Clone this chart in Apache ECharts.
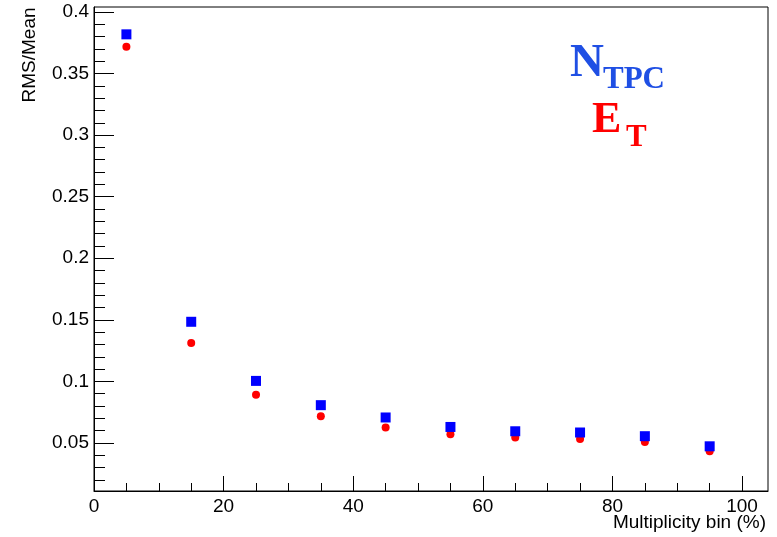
<!DOCTYPE html>
<html>
<head>
<meta charset="utf-8">
<script src="https://cdn.jsdelivr.net/npm/echarts@6/dist/echarts.min.js"></script>
<style>
  html, body { margin: 0; padding: 0; background: #fff; }
  #chart { width: 777px; height: 537px; }
</style>
</head>
<body>
<div id="chart"></div>
<script>
// Multiplicity bin centres (%)
const bins = [5, 15, 25, 35, 45, 55, 65, 75, 85, 95];
// RMS/Mean of the TPC track multiplicity per bin
const nTpc = [0.3818, 0.1484, 0.1004, 0.0807, 0.0707, 0.0630, 0.0595, 0.0585, 0.0555, 0.0473];
// RMS/Mean of the transverse energy per bin
const eT = [0.3718, 0.1311, 0.0891, 0.0717, 0.0625, 0.0571, 0.0544, 0.0533, 0.0508, 0.0433];

// Axis ticks
const xMajorTicks = [0, 20, 40, 60, 80, 100];
const xMinorTicks = [5, 10, 15, 25, 30, 35, 45, 50, 55, 65, 70, 75, 85, 90, 95];
const yMajorTicks = [0.05, 0.1, 0.15, 0.2, 0.25, 0.3, 0.35, 0.4];
const yMinorTicks = [];
for (let i = 2; i <= 40; i++) yMinorTicks.push(i / 100);

const X_RANGE = [0, 104];
const Y_RANGE = [0.011, 0.404];

const FONT = '"Liberation Sans", Arial, Helvetica, sans-serif';
const SERIF = '"Liberation Serif", "Times New Roman", serif';
const BLUE_TEXT = '#1f4fe4';

const toPairs = (xs, ys) => xs.map((x, i) => [x, ys[i]]);

const chart = echarts.init(document.getElementById('chart'), null, { renderer: 'canvas' });

chart.setOption({
  animation: false,
  backgroundColor: '#ffffff',
  grid: {
    left: 94, right: 9, top: 7, bottom: 46,
    containLabel: false, outerBoundsMode: 'none',
    show: true, borderColor: '#000', borderWidth: 1, backgroundColor: 'transparent'
  },
  xAxis: [
    {
      type: 'value', min: X_RANGE[0], max: X_RANGE[1],
      axisLine: { show: true, lineStyle: { color: '#000', width: 1 } },
      axisTick: { show: true, inside: true, length: 15, customValues: xMajorTicks, lineStyle: { color: '#000' } },
      axisLabel: { show: true, customValues: xMajorTicks, margin: 6, color: '#000', fontFamily: FONT, fontSize: 19 },
      splitLine: { show: false }
    },
    {
      type: 'value', min: X_RANGE[0], max: X_RANGE[1], position: 'bottom',
      axisLine: { show: false },
      axisTick: { show: true, inside: true, length: 8, customValues: xMinorTicks, lineStyle: { color: '#000' } },
      axisLabel: { show: false },
      splitLine: { show: false }
    }
  ],
  yAxis: [
    {
      type: 'value', min: Y_RANGE[0], max: Y_RANGE[1],
      axisLine: { show: true, lineStyle: { color: '#000', width: 1 } },
      axisTick: { show: true, inside: true, length: 20, customValues: yMajorTicks, lineStyle: { color: '#000' } },
      axisLabel: { show: true, customValues: yMajorTicks, margin: 5, color: '#000', fontFamily: FONT, fontSize: 19,
                   formatter: v => String(v) },
      splitLine: { show: false }
    },
    {
      type: 'value', min: Y_RANGE[0], max: Y_RANGE[1], position: 'left',
      axisLine: { show: false },
      axisTick: { show: true, inside: true, length: 11, customValues: yMinorTicks, lineStyle: { color: '#000' } },
      axisLabel: { show: false },
      splitLine: { show: false }
    }
  ],
  graphic: [
    // axis titles
    {
      type: 'text', x: 30, y: 55, rotation: Math.PI / 2,
      style: { text: 'RMS/Mean', fill: '#000', font: '19px ' + FONT, align: 'center', verticalAlign: 'middle' }
    },
    {
      type: 'text', x: 766, y: 523,
      style: { text: 'Multiplicity bin (%)', fill: '#000', font: '19px ' + FONT, align: 'right', verticalAlign: 'middle' }
    },
    // legend-style labels
    {
      type: 'text', x: 570, y: 64,
      style: { text: 'N', fill: BLUE_TEXT, font: 'bold 47px ' + SERIF, align: 'left', verticalAlign: 'middle' }
    },
    {
      type: 'text', x: 603, y: 80,
      style: { text: 'TPC', fill: BLUE_TEXT, font: 'bold 31px ' + SERIF, align: 'left', verticalAlign: 'middle' }
    },
    {
      type: 'text', x: 592, y: 121,
      style: { text: 'E', fill: '#ff0000', font: 'bold 44px ' + SERIF, align: 'left', verticalAlign: 'middle' }
    },
    {
      type: 'text', x: 626, y: 138,
      style: { text: 'T', fill: '#ff0000', font: 'bold 31px ' + SERIF, align: 'left', verticalAlign: 'middle' }
    }
  ],
  series: [
    {
      name: 'E_T', type: 'scatter', xAxisIndex: 0, yAxisIndex: 0,
      data: toPairs(bins, eT),
      symbol: 'circle', symbolSize: 8,
      itemStyle: { color: '#ff0000', opacity: 1 }
    },
    {
      name: 'N_TPC', type: 'scatter', xAxisIndex: 0, yAxisIndex: 0,
      data: toPairs(bins, nTpc),
      symbol: 'rect', symbolSize: 10,
      itemStyle: { color: '#0000ff', opacity: 1 }
    }
  ]
});
</script>
</body>
</html>
